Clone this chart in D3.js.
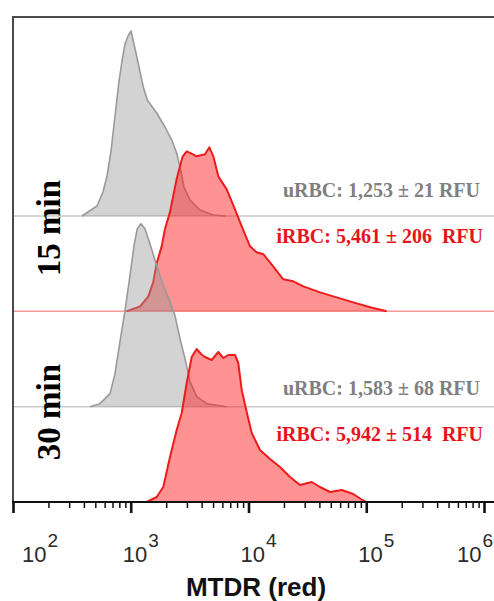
<!DOCTYPE html>
<html>
<head>
<meta charset="utf-8">
<script src="https://cdn.jsdelivr.net/npm/d3@7"></script>
<style>
  html, body { margin: 0; padding: 0; background: #fff; }
  svg { display: block; }
</style>
</head>
<body>
<svg id="chart" width="494" height="601"></svg>
<script>
// MTDR (red) fluorescence histograms, uninfected vs infected RBC, 15 and 30 min

const decadeTicks = [1e2, 1e3, 1e4, 1e5, 1e6];
const decadeExponents = ["2", "3", "4", "5", "6"];

const trackKeys = ["uRBC15", "iRBC15", "uRBC30", "iRBC30"];
const timeLabels = ["15 min", "30 min"];

// histogram bins: fluorescence (RFU) and event counts
const uRBC15_rfu   = [385, 409, 517, 581, 629, 680, 735, 795, 843, 894, 948, 1005, 1108, 1278, 1382, 1661, 1954, 2227, 2455, 2656, 2833, 3186, 3873, 4995, 6316];
const uRBC15_count = [0,   2,   10,  24,  40,  65,  100, 135, 155, 172, 180, 185,  163,  129,  116,  103,  89,   76,   63,   46,   29,   16,   6,    1,    0];

const iRBC15_rfu   = [920, 1200, 1410, 1550, 1660, 1830, 1950, 2150, 2450, 2760, 2990, 3250, 3630, 4270, 4650, 5030, 5540, 6530, 7680, 8760, 10300, 11700, 13400, 16200, 19700, 24000, 29200, 40500, 56100, 77600, 108000, 149000];
const iRBC15_count = [0,   5,    15,   29,   48,   65,   82,   99,   132,  155,  160,  158,  155,  157,  164,  155,  135,  122,  102,  85,   65,    59,    57,    45,    32,    30,    25,    19,    14,    9,     4,      0];

const uRBC30_rfu   = [451, 481, 548, 667, 735, 810, 894, 985, 1066, 1136, 1222, 1321, 1437, 1661, 1890, 2154, 2376, 2620, 2888, 3186, 3632, 4416, 6530];
const uRBC30_count = [0,   1,   3,   13,  33,  65,  96,  131, 161,  178,  183,  178,  165,  141,  121,  105,  91,   68,   48,   25,   10,   3,    0];

const iRBC30_rfu   = [1366, 1661, 1890, 2154, 2455, 2708, 2987, 3294, 3632, 3950, 4272, 4870, 5539, 6109, 6739, 7680, 8192, 8757, 9654, 10650, 12520, 15230, 18510, 22510, 27370, 34410, 40480, 49220, 61870, 77620, 90000, 100000];
const iRBC30_count = [0,    5,    15,   45,   72,   89,   119,  145,  153,  148,  145,  142,  150,  144,  147,  147,  139,  112,  90,   69,    52,    43,    35,    25,    17,    20,    15,    10,    12,    8,     3,     0];

const summaryTexts = [
  "uRBC: 1,253 \u00b1 21 RFU",
  "iRBC: 5,461 \u00b1 206  RFU",
  "uRBC: 1,583 \u00b1 68 RFU",
  "iRBC: 5,942 \u00b1 514  RFU"
];

const seriesRfu   = [uRBC15_rfu, iRBC15_rfu, uRBC30_rfu, iRBC30_rfu];
const seriesCount = [uRBC15_count, iRBC15_count, uRBC30_count, iRBC30_count];

// ---------------------------------------------------------------
const W = 494, H = 601;
const plotLeft = 13, plotRight = 484, plotTop = 17, axisY = 502;

const svg = d3.select("#chart");

const x = d3.scaleLog().domain([1e2, 1e6]).range([plotLeft, plotRight]);
const track = d3.scalePoint().domain(trackKeys).range([216, axisY]);
const h = d3.scaleLinear().domain([0, 200]).range([0, 200]);

const style = {
  uRBC: { fill: "rgba(150,150,150,0.42)", stroke: "#9a9a9a", strokeWidth: 1.6, base: "#c9c9c9" },
  iRBC: { fill: "rgba(255,30,30,0.48)",  stroke: "#ec1c1c", strokeWidth: 2.0, base: "#f39a9a" }
};
const kindOf = k => k.startsWith("u") ? "uRBC" : "iRBC";

// baselines of each histogram track
svg.append("g").selectAll("line")
  .data(trackKeys.slice(0, 3))
  .join("line")
  .attr("x1", plotLeft).attr("x2", W)
  .attr("y1", k => track(k)).attr("y2", k => track(k))
  .attr("stroke", k => style[kindOf(k)].base)
  .attr("stroke-width", 1.5);

// histograms
const histG = svg.append("g");
trackKeys.forEach((k, i) => {
  const base = track(k);
  const pts = seriesRfu[i].map((v, j) => [v, seriesCount[i][j]]);
  const st = style[kindOf(k)];
  const area = d3.area()
    .x(d => x(d[0]))
    .y0(base)
    .y1(d => base - h(d[1]));
  const line = d3.line()
    .x(d => x(d[0]))
    .y(d => base - h(d[1]));
  histG.append("path").attr("d", area(pts)).attr("fill", st.fill);
  histG.append("path").attr("d", line(pts))
    .attr("fill", "none")
    .attr("stroke", st.stroke)
    .attr("stroke-width", st.strokeWidth)
    .attr("stroke-linejoin", "round");
});

// frame: left and top
svg.append("line").attr("x1", plotLeft).attr("x2", plotLeft).attr("y1", plotTop).attr("y2", axisY)
  .attr("stroke", "#4a4a4a").attr("stroke-width", 2);
svg.append("line").attr("x1", plotLeft - 1).attr("x2", W).attr("y1", plotTop).attr("y2", plotTop)
  .attr("stroke", "#4a4a4a").attr("stroke-width", 2);

// x axis with log minor ticks
const allTicks = [];
for (let e = 2; e < 6; e++) {
  for (let m = 1; m < 10; m++) allTicks.push(m * Math.pow(10, e));
}
allTicks.push(1e6);
const isMajor = v => decadeTicks.some(t => Math.abs(t - v) / t < 1e-9);

const axisG = svg.append("g").attr("transform", `translate(0,${axisY})`)
  .call(d3.axisBottom(x).tickValues(allTicks).tickFormat("").tickSizeOuter(0));
axisG.select(".domain").remove();
axisG.selectAll(".tick line")
  .attr("y2", d => isMajor(d) ? 11 : 6)
  .attr("stroke", "#111")
  .attr("stroke-width", d => isMajor(d) ? 2.6 : 1.5);
axisG.append("line").attr("x1", plotLeft - 1).attr("x2", W).attr("y1", 0).attr("y2", 0)
  .attr("stroke", "#111").attr("stroke-width", 2);

// decade labels 10^n
const labelG = svg.append("g");
decadeTicks.forEach((v, i) => {
  const left = Math.max(22, Math.min(457, x(v) - 8));
  const t = labelG.append("text")
    .attr("x", left).attr("y", 562)
    .attr("font-family", "Liberation Sans, Arial, sans-serif")
    .attr("font-size", 22)
    .attr("fill", "#2a2a2a");
  t.append("tspan").text("10");
  t.append("tspan").attr("dy", -15).attr("dx", 1).attr("font-size", 19).text(decadeExponents[i]);
});

// axis title
svg.append("text")
  .attr("x", 256).attr("y", 596)
  .attr("text-anchor", "middle")
  .attr("font-family", "Liberation Sans, Arial, sans-serif")
  .attr("font-weight", "bold")
  .attr("font-size", 26)
  .attr("fill", "#111")
  .text("MTDR (red)");

// time labels (rotated)
const timeCenters = [228, 412];
timeLabels.forEach((s, i) => {
  svg.append("text")
    .attr("transform", `translate(60,${timeCenters[i]}) rotate(-90)`)
    .attr("text-anchor", "middle")
    .attr("font-family", "Liberation Serif, Times New Roman, serif")
    .attr("font-weight", "bold")
    .attr("font-size", 33)
    .attr("fill", "#000")
    .text(s);
});

// summary statistics
const summaryY = [197, 243, 395, 441];
const summaryX = [480, 483, 480, 483];
summaryTexts.forEach((s, i) => {
  svg.append("text")
    .attr("x", summaryX[i]).attr("y", summaryY[i])
    .attr("text-anchor", "end")
    .attr("font-family", "Liberation Serif, Times New Roman, serif")
    .attr("font-weight", "bold")
    .attr("font-size", 20)
    .style("white-space", "pre")
    .attr("fill", kindOf(trackKeys[i]) === "uRBC" ? "#7f7f7f" : "#e8141c")
    .text(s);
});
</script>
</body>
</html>
